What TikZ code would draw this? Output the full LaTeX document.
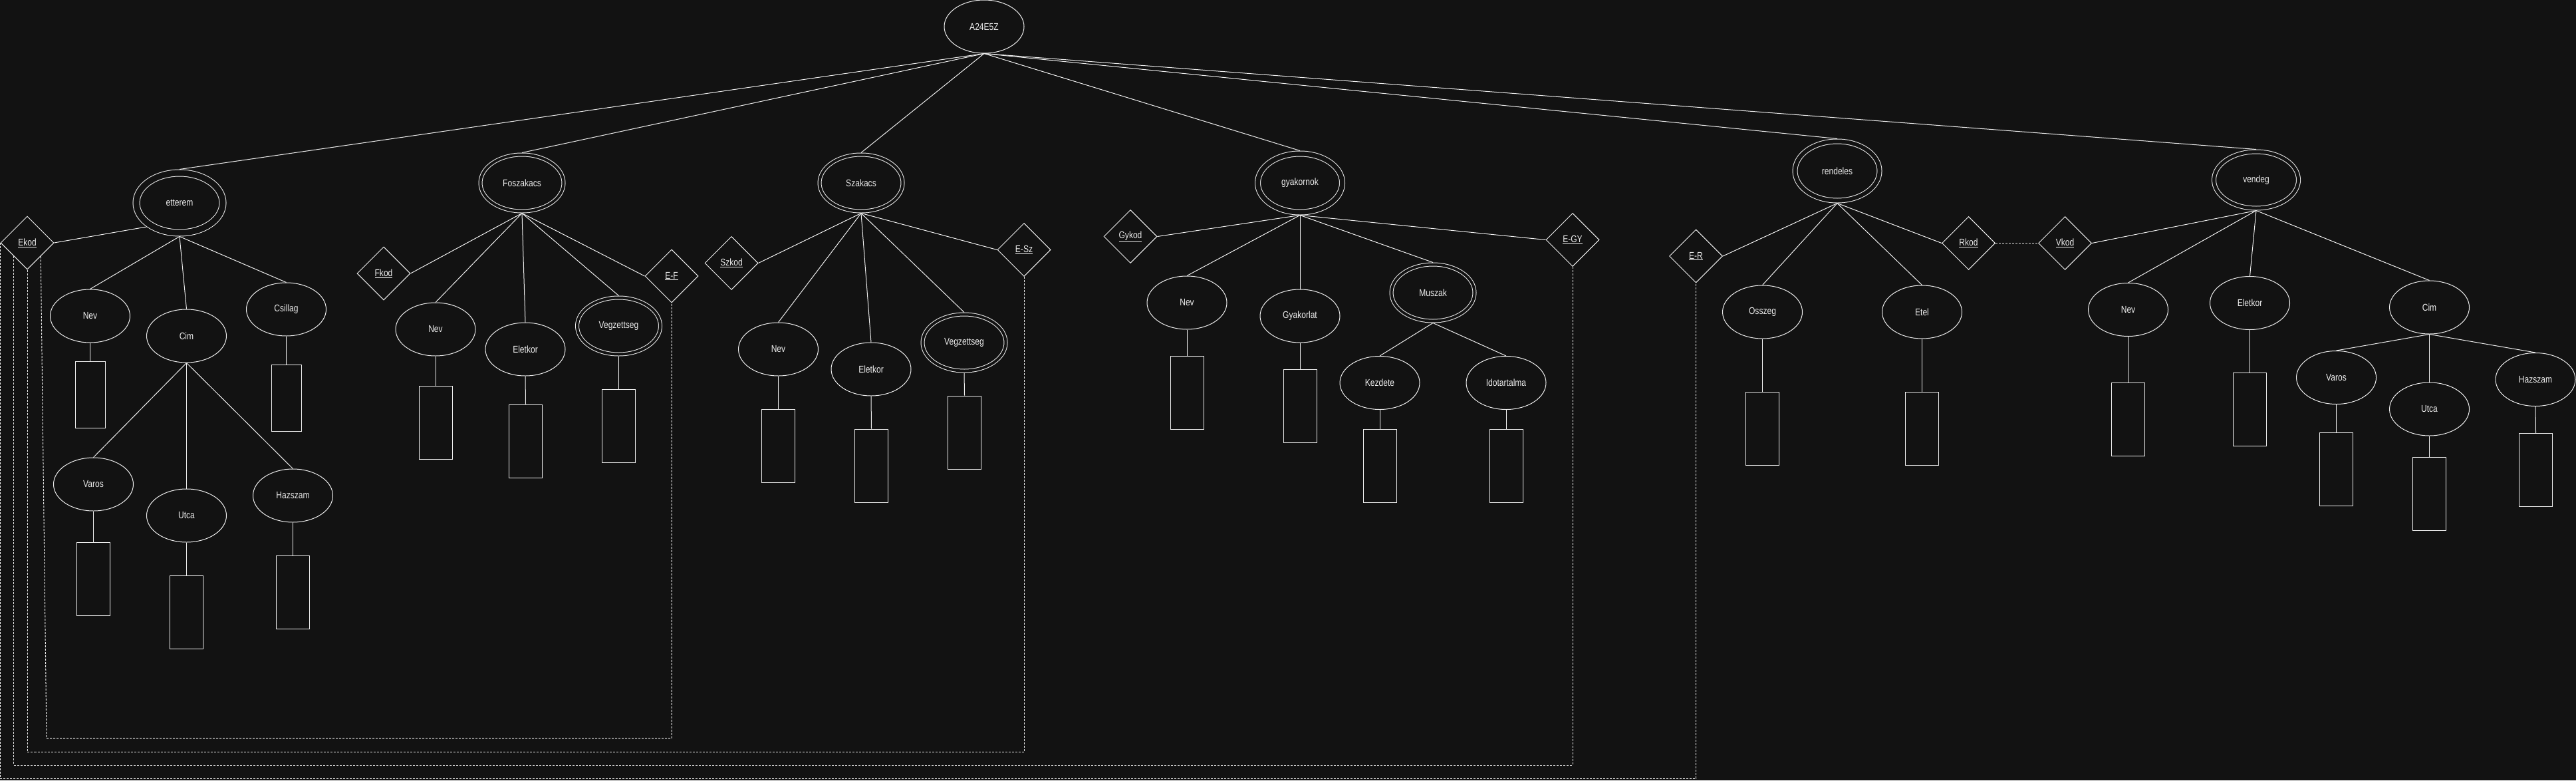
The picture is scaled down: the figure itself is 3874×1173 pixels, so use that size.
\documentclass[tikz,border=0pt]{standalone}
\usepackage{fontspec}
\setmainfont{Liberation Sans}[FakeStretch=0.82]
\usetikzlibrary{shapes.geometric}
\definecolor{bg}{RGB}{18,18,18}
\definecolor{fg}{RGB}{238,238,238}

\begin{document}
\begin{tikzpicture}[x=1pt, y=-1pt, line width=1pt,
  every node/.style={text=fg, font=\fontsize{14.7}{17}\selectfont},
  attr/.style={ellipse, draw=fg, minimum width=120pt, minimum height=80pt, inner sep=0pt},
  weak/.style={ellipse, draw=fg, double=bg, double distance=4pt, outer sep=3pt, minimum width=125pt, minimum height=85pt, inner sep=0pt},
  key/.style={diamond, draw=fg, aspect=1, minimum width=80pt, minimum height=80pt, inner sep=0pt},
  val/.style={rectangle, draw=fg, minimum width=50pt, minimum height=110pt, inner sep=0pt},
  conn/.style={draw=fg},
  dline/.style={draw=fg, dash pattern=on 3pt off 2pt}]

\path[use as bounding box, fill=bg] (0,0) rectangle (3874,1173);

\node[attr] at (1480,40)(a24) {A24E5Z};

% etterem
\node[weak, double distance=9pt, outer sep=5.5pt, minimum width=130pt, minimum height=90pt] at (270,305)(ett) {etterem};
\node[key] at (41,365)(ekod) {\underline{Ekod}};
\node[attr] at (135.5,475)(ettnev) {Nev};
\node[attr] at (280.5,505)(ettcim) {Cim};
\node[attr] at (430.5,465)(ettcsil) {Csillag};
\node[attr] at (140.5,728)(ettvaros) {Varos};
\node[attr] at (280.5,775)(ettutca) {Utca};
\node[attr] at (440.5,745)(etthsz) {Hazszam};
\node[val, minimum width=45pt, minimum height=100pt] at (135.5,593)(bettnev) {};
\node[val, minimum width=45pt, minimum height=100pt] at (430.5,598)(bettcsil) {};
\node[val] at (140.5,870)(bettvaros) {};
\node[val] at (280.5,920)(bettutca) {};
\node[val] at (440.5,890.5)(betthsz) {};

% Foszakacs
\node[weak] at (785,275)(fosz) {Foszakacs};
\node[key] at (577,411)(fkod) {\underline{Fkod}};
\node[key] at (1010,415)(ef) {\underline{E-F}};
\node[attr] at (655,495)(fnev) {Nev};
\node[attr] at (790,525)(fkor) {Eletkor};
\node[weak] at (930.5,490)(fvegz) {Vegzettseg};
\node[val] at (655,635)(bfnev) {};
\node[val] at (790.5,663)(bfkor) {};
\node[val] at (930.5,640)(bfvegz) {};

% Szakacs
\node[weak] at (1295,275)(szak) {Szakacs};
\node[key] at (1100,395.5)(szkod) {\underline{Szkod}};
\node[key] at (1540,375.5)(esz) {\underline{E-Sz}};
\node[attr] at (1170.5,525)(snev) {Nev};
\node[attr] at (1310,555)(skor) {Eletkor};
\node[weak] at (1450,515)(svegz) {Vegzettseg};
\node[val] at (1170.5,670)(bsnev) {};
\node[val] at (1310.5,700)(bskor) {};
\node[val] at (1450.5,650)(bsvegz) {};

% gyakornok
\node[weak, double distance=7pt, outer sep=4.5pt, minimum width=127pt, minimum height=88pt] at (1955,275)(gyak) {gyakornok};
\node[key] at (1700,355.5)(gykod) {\underline{Gykod}};
\node[key] at (2365,360.5)(egy) {\underline{E-GY}};
\node[attr] at (1785,455)(gnev) {Nev};
\node[attr] at (1955,475)(ggyak) {Gyakorlat};
\node[weak] at (2155,440)(gmusz) {Muszak};
\node[attr] at (2075,575.5)(gkezd) {Kezdete};
\node[attr] at (2265,575.5)(gido) {Idotartalma};
\node[val] at (1785,590)(bgnev) {};
\node[val] at (1955,610)(bggyak) {};
\node[val] at (2075,700)(bgkezd) {};
\node[val] at (2265,700)(bgido) {};

% rendeles
\node[weak, double distance=6pt, outer sep=4pt, minimum width=127pt, minimum height=89pt] at (2763,257)(rend) {rendeles};
\node[key] at (2550.5,385)(er) {\underline{E-R}};
\node[key] at (2960.5,365.5)(rkod) {\underline{Rkod}};
\node[attr] at (2650.5,469)(rossz) {Osszeg};
\node[attr] at (2890.5,469)(retel) {Etel};
\node[val] at (2650.5,644)(brossz) {};
\node[val] at (2890.5,644)(bretel) {};

% vendeg
\node[weak, double distance=5pt, outer sep=3.5pt, minimum width=127pt, minimum height=85pt] at (3393,270.5)(vend) {vendeg};
\node[key] at (3105.5,365.5)(vkod) {\underline{Vkod}};
\node[attr] at (3200.5,465.5)(vnev) {Nev};
\node[attr] at (3383.5,455.5)(vkor) {Eletkor};
\node[attr] at (3653.5,462)(vcim) {Cim};
\node[attr] at (3513.5,567.5)(vvaros) {Varos};
\node[attr] at (3653.5,615)(vutca) {Utca};
\node[attr] at (3813,570.5)(vhsz) {Hazszam};
\node[val] at (3200.5,630.5)(bvnev) {};
\node[val] at (3383.5,615)(bvkor) {};
\node[val] at (3513.5,705)(bvvaros) {};
\node[val] at (3653.5,742)(bvutca) {};
\node[val] at (3813.5,706.5)(bvhsz) {};

% connectors
\foreach \e in {ett,fosz,szak,gyak,rend,vend}
  \draw[conn] (a24.south) -- (\e.north);
\draw[conn] (ekod.east) -- (ett.216);
\foreach \a in {ettnev,ettcim,ettcsil}
  \draw[conn] (ett.south) -- (\a.north);
\foreach \a in {ettvaros,ettutca,etthsz}
  \draw[conn] (ettcim.south) -- (\a.north);
\draw[conn] (fosz.south) -- (fkod.east);
\draw[conn] (fosz.south) -- (ef.west);
\foreach \a in {fnev,fkor,fvegz}
  \draw[conn] (fosz.south) -- (\a.north);
\draw[conn] (szak.south) -- (szkod.east);
\draw[conn] (szak.south) -- (esz.west);
\foreach \a in {snev,skor,svegz}
  \draw[conn] (szak.south) -- (\a.north);
\draw[conn] (gyak.south) -- (gykod.east);
\draw[conn] (gyak.south) -- (egy.west);
\foreach \a in {gnev,ggyak,gmusz}
  \draw[conn] (gyak.south) -- (\a.north);
\foreach \a in {gkezd,gido}
  \draw[conn] (gmusz.south) -- (\a.north);
\draw[conn] (rend.south) -- (er.east);
\draw[conn] (rend.south) -- (rkod.west);
\foreach \a in {rossz,retel}
  \draw[conn] (rend.south) -- (\a.north);
\draw[conn] (vend.south) -- (vkod.east);
\foreach \a in {vnev,vkor,vcim}
  \draw[conn] (vend.south) -- (\a.north);
\foreach \a in {vvaros,vutca,vhsz}
  \draw[conn] (vcim.south) -- (\a.north);
\foreach \a in {ettnev,ettcsil,ettvaros,ettutca,etthsz,fnev,fkor,fvegz,snev,skor,svegz,gnev,ggyak,gkezd,gido,rossz,retel,vnev,vkor,vvaros,vutca,vhsz}
  \draw[conn] (\a.south) -- (b\a.north);

% dashed links
\coordinate (low1) at (0,1110);
\coordinate (low2) at (0,1130);
\coordinate (low3) at (0,1150);
\coordinate (low4) at (0,1170);
\draw[dline] (ekod.south east) -- (70,1110) -| (ef.south);
\draw[dline] (ekod.south) -- (ekod.south |- low2) -| (esz.south);
\draw[dline] (ekod.south west) -- (ekod.south west |- low3) -| (egy.south);
\draw[dline] (ekod.west) -- (ekod.west |- low4) -| (er.south);
\draw[dline] (rkod.east) -- (vkod.west);
\end{tikzpicture}
\end{document}
